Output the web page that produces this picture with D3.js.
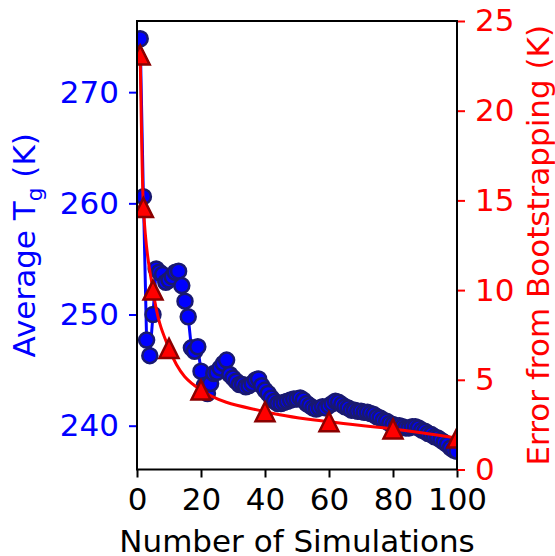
<!DOCTYPE html>
<html>
<head>
<meta charset="utf-8">
<script src="https://cdn.jsdelivr.net/npm/d3@7"></script>
<style>
  body { margin: 0; background: #fff; }
  svg { display: block; font-family: "DejaVu Sans", sans-serif; }
</style>
</head>
<body>
<svg id="chart" width="555" height="556"></svg>
<script>
// number of simulations for each running average
const SIM_COUNTS = [
  1, 2, 3, 4, 5, 6, 7, 8, 9, 10, 11, 12, 13, 14, 15, 16, 17, 18, 19, 20,
  21, 22, 23, 24, 25, 26, 27, 28, 29, 30, 31, 32, 33, 34, 35, 36, 37, 38, 39, 40,
  41, 42, 43, 44, 45, 46, 47, 48, 49, 50, 51, 52, 53, 54, 55, 56, 57, 58, 59, 60,
  61, 62, 63, 64, 65, 66, 67, 68, 69, 70, 71, 72, 73, 74, 75, 76, 77, 78, 79, 80,
  81, 82, 83, 84, 85, 86, 87, 88, 89, 90, 91, 92, 93, 94, 95, 96, 97, 98, 99, 100,
];

// average Tg (K)
const AVG_TG = [
  274.8, 260.6, 247.7, 246.3, 250.0, 254.1, 253.8, 253.6, 252.9, 253.1,
  253.4, 253.8, 253.9, 252.6, 251.2, 249.8, 247.0, 246.7, 247.1, 244.9,
  243.6, 242.9, 243.8, 244.7, 244.8, 245.2, 245.6, 245.9, 244.6, 244.3,
  244.0, 243.7, 243.7, 243.5, 243.6, 243.8, 244.1, 244.2, 243.6, 243.2,
  242.9, 242.5, 242.2, 242.0, 242.0, 242.1, 242.2, 242.3, 242.4, 242.4,
  242.5, 242.3, 242.0, 241.8, 241.6, 241.5, 241.6, 241.7, 241.6, 241.8,
  242.0, 242.2, 242.1, 241.9, 241.7, 241.6, 241.4, 241.4, 241.3, 241.3,
  241.2, 241.2, 241.1, 241.0, 240.8, 240.7, 240.5, 240.4, 240.2, 240.1,
  240.0, 240.0, 239.9, 239.8, 239.8, 239.9, 239.9, 239.8, 239.6, 239.5,
  239.3, 239.2, 239.0, 238.9, 238.7, 238.5, 238.3, 238.0, 237.8, 237.7,
];

// bootstrapping error (K) at selected simulation counts
const ERR_COUNTS = [1, 2, 5, 10, 20, 40, 60, 80, 100];
const ERR_VALUES = [23.1, 14.6, 10.0, 6.75, 4.43, 3.22, 2.66, 2.26, 1.76];

// tick values
const X_TICKS = [0, 20, 40, 60, 80, 100];
const TG_TICKS = [240, 250, 260, 270];
const ERR_TICKS = [0, 5, 10, 15, 20, 25];

const BLUE = "#0000ff";
const RED = "#ff0000";
const FONT = 31;

const config = {
  width: 320,
  height: 448.5,
  margin: { top: 21, left: 137 },
};

const svg = d3
  .select("#chart")
  .append("g")
  .attr("transform", `translate(${config.margin.left}, ${config.margin.top})`);

// scales
const xScale = d3.scaleLinear().domain([0, 100]).range([0, config.width]);
const tgScale = d3
  .scaleLinear()
  .domain([236.06, 276.4])
  .range([config.height, 0]);
const errScale = d3.scaleLinear().domain([0, 25]).range([config.height, 0]);

// axes
function styleAxis(g, color) {
  g.select(".domain").remove();
  g.selectAll(".tick line").attr("stroke", color).attr("stroke-width", 2);
  g.selectAll(".tick text")
    .attr("fill", color)
    .style("font-size", `${FONT}px`)
    .style("font-family", '"DejaVu Sans", sans-serif');
}

svg
  .append("g")
  .attr("class", "axis axis-x")
  .attr("transform", `translate(0, ${config.height})`)
  .call(d3.axisBottom(xScale).tickValues(X_TICKS).tickSize(8).tickPadding(10))
  .call((g) => styleAxis(g, "#000"));

svg
  .append("g")
  .attr("class", "axis axis-y")
  .call(d3.axisLeft(tgScale).tickValues(TG_TICKS).tickSize(8).tickPadding(10))
  .call((g) => styleAxis(g, BLUE));

svg
  .append("g")
  .attr("class", "axis axis-y2")
  .attr("transform", `translate(${config.width}, 0)`)
  .call(
    d3.axisRight(errScale).tickValues(ERR_TICKS).tickSize(8).tickPadding(10)
  )
  .call((g) => styleAxis(g, RED));

// clip marks to the plot area
svg
  .append("clipPath")
  .attr("id", "plot-clip")
  .append("rect")
  .attr("width", config.width)
  .attr("height", config.height);

const plot = svg.append("g").attr("clip-path", "url(#plot-clip)");

const tgData = SIM_COUNTS.map((n, i) => ({ n, v: AVG_TG[i] }));
const errData = ERR_COUNTS.map((n, i) => ({ n, v: ERR_VALUES[i] }));

// blue line + circles
plot
  .append("path")
  .datum(tgData)
  .attr("fill", "none")
  .attr("stroke", BLUE)
  .attr("stroke-width", 3)
  .attr(
    "d",
    d3
      .line()
      .x((d) => xScale(d.n))
      .y((d) => tgScale(d.v))
  );

plot
  .selectAll(".circle-tg")
  .data(tgData)
  .join("circle")
  .attr("class", "circle-tg")
  .attr("cx", (d) => xScale(d.n))
  .attr("cy", (d) => tgScale(d.v))
  .attr("r", 7.5)
  .attr("fill", BLUE)
  .attr("stroke", "#191970")
  .attr("stroke-width", 2.5);

// red line + triangles
plot
  .append("path")
  .datum(errData)
  .attr("fill", "none")
  .attr("stroke", RED)
  .attr("stroke-width", 3)
  .attr(
    "d",
    d3
      .line()
      .x((d) => xScale(d.n))
      .y((d) => errScale(d.v))
      .curve(d3.curveMonotoneX)
  );

const tri = 9.5;
plot
  .selectAll(".tri-err")
  .data(errData)
  .join("path")
  .attr("class", "tri-err")
  .attr(
    "transform",
    (d) => `translate(${xScale(d.n)}, ${errScale(d.v)})`
  )
  .attr("d", `M0,${-tri}L${tri},${tri}L${-tri},${tri}Z`)
  .attr("fill", RED)
  .attr("stroke", "#8b0000")
  .attr("stroke-width", 2.5);

// frame
svg
  .append("rect")
  .attr("width", config.width)
  .attr("height", config.height)
  .attr("fill", "none")
  .attr("stroke", "#000")
  .attr("stroke-width", 2);

// axis labels
svg
  .append("text")
  .attr("class", "label label-x")
  .attr("text-anchor", "middle")
  .attr("x", config.width / 2)
  .attr("y", config.height + 82)
  .style("font-size", `${FONT}px`)
  .attr("fill", "#000")
  .text("Number of Simulations");

const labelY = svg
  .append("text")
  .attr("class", "label label-y")
  .attr("text-anchor", "middle")
  .attr("transform", `translate(${35 - config.margin.left}, ${config.height / 2}) rotate(-90)`)
  .style("font-size", `${FONT}px`)
  .attr("fill", BLUE);
labelY.append("tspan").text("Average T");
labelY
  .append("tspan")
  .attr("dy", 7)
  .style("font-size", `${FONT * 0.7}px`)
  .text("g");
labelY.append("tspan").attr("dy", -7).text(" (K)");

svg
  .append("text")
  .attr("class", "label label-y2")
  .attr("text-anchor", "middle")
  .attr("transform", `translate(${549 - config.margin.left}, ${config.height / 2}) rotate(-90)`)
  .style("font-size", `${FONT}px`)
  .attr("fill", RED)
  .text("Error from Bootstrapping (K)");
</script>
</body>
</html>
